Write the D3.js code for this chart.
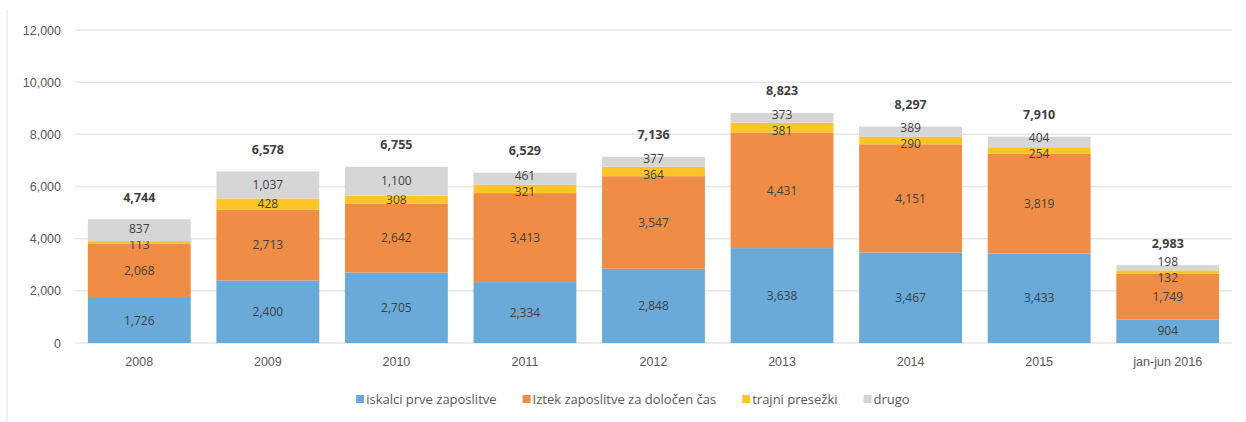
<!DOCTYPE html>
<html>
<head>
<meta charset="utf-8">
<script src="https://cdn.jsdelivr.net/npm/d3@7"></script>
<style>
  body { margin: 0; background: #fff; }
  svg { font-family: "Open Sans", "Liberation Sans", sans-serif; }
</style>
</head>
<body>
<svg id="chart" width="1246" height="422"></svg>
<script>
// data
const categories = ["2008", "2009", "2010", "2011", "2012", "2013", "2014", "2015", "jan-jun 2016"];
const seriesNames = ["iskalci prve zaposlitve", "Iztek zaposlitve za določen čas", "trajni presežki", "drugo"];
const firstJob = [1726, 2400, 2705, 2334, 2848, 3638, 3467, 3433, 904];
const fixedTerm = [2068, 2713, 2642, 3413, 3547, 4431, 4151, 3819, 1749];
const redundancy = [113, 428, 308, 321, 364, 381, 290, 254, 132];
const other = [837, 1037, 1100, 461, 377, 373, 389, 404, 198];
const totals = [4744, 6578, 6755, 6529, 7136, 8823, 8297, 7910, 2983];
const yTicks = [0, 2000, 4000, 6000, 8000, 10000, 12000];

const colors = ["#6aaad9", "#ef8d46", "#fec52a", "#d7d6d6"];
const keys = ["a", "b", "c", "d"];

const rows = categories.map((c, i) => ({
    cat: c, a: firstJob[i], b: fixedTerm[i], c: redundancy[i], d: other[i], total: totals[i]
}));

const svg = d3.select("#chart");
const margin = { top: 30, right: 14, bottom: 79, left: 75 };
const width = 1246 - margin.left - margin.right;
const height = 422 - margin.top - margin.bottom;

// faint frame line on the left
svg.append("line")
    .attr("x1", 7).attr("x2", 7).attr("y1", 10).attr("y2", 422)
    .attr("stroke", "#ececec").attr("stroke-width", 1.5);

const g = svg.append("g").attr("transform", `translate(${margin.left},${margin.top})`);

const x = d3.scaleBand().domain(categories).range([0, width]).paddingInner(0.2).paddingOuter(0.1);
const y = d3.scaleLinear().domain([0, 12000]).range([height, 0]);

// gridlines
g.append("g")
    .selectAll("line")
    .data(yTicks)
    .join("line")
    .attr("x1", 0).attr("x2", width)
    .attr("y1", d => y(d)).attr("y2", d => y(d))
    .attr("stroke", "#e6e6e6").attr("stroke-width", 1.5);

// y axis labels
const yAxis = g.append("g")
    .call(d3.axisLeft(y).tickValues(yTicks).tickFormat(d3.format(",")).tickSize(0).tickPadding(14));
yAxis.select(".domain").remove();
yAxis.selectAll("text").style("font-size", "12.5px").style("fill", "#595959");

// x axis labels
const xAxis = g.append("g")
    .attr("transform", `translate(0,${height})`)
    .call(d3.axisBottom(x).tickSize(0).tickPadding(14));
xAxis.select(".domain").remove();
xAxis.selectAll("text").style("font-size", "12.5px").style("fill", "#595959");

const series = d3.stack().keys(keys)(rows);

const layers = g.selectAll("g.layer")
    .data(series)
    .join("g")
    .attr("class", "layer")
    .attr("fill", (d, i) => colors[i]);

layers.selectAll("rect")
    .data(d => d)
    .join("rect")
    .attr("x", d => x(d.data.cat))
    .attr("width", x.bandwidth())
    .attr("y", d => y(d[1]))
    .attr("height", d => y(d[0]) - y(d[1]));

// segment label positions, nudged apart where the thin segments crowd together
const labelPos = rows.map((r, i) => {
    const ys = series.map(s => y((s[i][0] + s[i][1]) / 2));
    const minGap = 16;
    for (let pass = 0; pass < 3; pass++) {
        for (let k = 1; k < ys.length; k++) {
            const diff = ys[k - 1] - ys[k];
            if (diff < minGap) {
                const push = (minGap - diff) / 2;
                ys[k - 1] += push;
                ys[k] -= push;
            }
        }
    }
    return ys;
});

layers.each(function (s, si) {
    d3.select(this).selectAll("text")
        .data(s.map((v, i) => ({ v, i, key: s.key })))
        .join("text")
        .attr("x", d => x(d.v.data.cat) + x.bandwidth() / 2)
        .attr("y", d => labelPos[d.i][si])
        .attr("dy", "0.35em")
        .attr("text-anchor", "middle")
        .style("font-size", "12px")
        .style("fill", "#404040")
        .text(d => d3.format(",")(d.v.data[d.key]));
});

// totals above the bars
g.append("g")
    .selectAll("text")
    .data(rows)
    .join("text")
    .attr("x", d => x(d.cat) + x.bandwidth() / 2)
    .attr("y", d => y(d.total) - 22)
    .attr("dy", "0.35em")
    .attr("text-anchor", "middle")
    .style("font-size", "12.5px")
    .style("font-weight", "bold")
    .style("fill", "#404040")
    .text(d => d3.format(",")(d.total));

// legend
const legend = svg.append("g").attr("transform", "translate(0,399)");
const item = legend.selectAll("g")
    .data(seriesNames)
    .join("g");
item.append("rect")
    .attr("width", 8).attr("height", 8).attr("y", -4)
    .attr("fill", (d, i) => colors[i]);
item.append("text")
    .attr("x", 10).attr("dy", "0.35em")
    .style("font-size", "13px")
    .style("fill", "#595959")
    .text(d => d);
const widths = [];
item.each(function () { widths.push(this.getBBox().width); });
const gap = 26;
const totalW = d3.sum(widths) + gap * (widths.length - 1);
let lx = 633 - totalW / 2;
item.attr("transform", (d, i) => {
    const t = `translate(${lx},0)`;
    lx += widths[i] + gap;
    return t;
});
</script>
</body>
</html>
